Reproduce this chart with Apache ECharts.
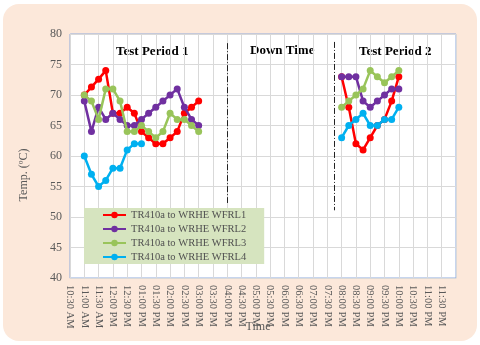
<!DOCTYPE html>
<html>
<head>
<meta charset="utf-8">
<script src="https://cdn.jsdelivr.net/npm/echarts@6/dist/echarts.min.js"></script>
<style>
  html, body { margin: 0; padding: 0; background: #fff; }
  #wrap { position: relative; width: 480px; height: 345px; }
  #panel { position: absolute; left: 3px; top: 4px; width: 474px; height: 337px;
           border-radius: 16px; background: #FCE8DA; }
  #main { position: absolute; left: 0; top: 0; width: 480px; height: 345px; }
</style>
</head>
<body>
<div id="wrap">
  <div id="panel"></div>
  <div id="main"></div>
</div>
<script>
// quarter-hour slots on the time axis
var categories = [
  '10:30 AM', '10:45 AM', '11:00 AM', '11:15 AM', '11:30 AM', '11:45 AM',
  '12:00 PM', '12:15 PM', '12:30 PM', '12:45 PM', '01:00 PM', '01:15 PM',
  '01:30 PM', '01:45 PM', '02:00 PM', '02:15 PM', '02:30 PM', '02:45 PM',
  '03:00 PM', '03:15 PM', '03:30 PM', '03:45 PM', '04:00 PM', '04:15 PM',
  '04:30 PM', '04:45 PM', '05:00 PM', '05:15 PM', '05:30 PM', '05:45 PM',
  '06:00 PM', '06:15 PM', '06:30 PM', '06:45 PM', '07:00 PM', '07:15 PM',
  '07:30 PM', '07:45 PM', '08:00 PM', '08:15 PM', '08:30 PM', '08:45 PM',
  '09:00 PM', '09:15 PM', '09:30 PM', '09:45 PM', '10:00 PM', '10:15 PM',
  '10:30 PM', '10:45 PM', '11:00 PM', '11:15 PM', '11:30 PM', '11:45 PM',
  '12:00 AM'
];

var seriesNames = ['TR410a to WRHE WFRL1', 'TR410a to WRHE WFRL2', 'TR410a to WRHE WFRL3', 'TR410a to WRHE WFRL4'];
var colors = ['#FF0000', '#7030A0', '#99C45A', '#00B0F0'];

// test period 1, from 11:00 AM
var period1Start = '11:00 AM';
var wfrl1P1 = [70, 71.3, 72.6, 74, 67, 67, 68, 67, 64, 63, 62, 62, 63, 64, 67, 68, 69];
var wfrl2P1 = [69, 64, 68, 66, 67, 66, 65, 65, 66, 67, 68, 69, 70, 71, 68, 66, 65];
var wfrl3P1 = [70, 69, 66, 71, 71, 69, 64, 64, 65, 64, 63, 64, 67, 66, 66, 65, 64];
var wfrl4P1 = [60, 57, 55, 56, 58, 58, 61, 62, 62];

// test period 2, from 08:00 PM
var period2Start = '08:00 PM';
var wfrl1P2 = [73, 68, 62, 61, 63, 65, 66, 69, 73];
var wfrl2P2 = [73, 73, 73, 69, 68, 69, 70, 71, 71];
var wfrl3P2 = [68, 69, 70, 71, 74, 73, 72, 73, 74];
var wfrl4P2 = [63, 65, 66, 67, 65, 65, 66, 66, 68];

// dash-dot separators
var dividerTimes = ['04:00 PM', '07:45 PM'];
var dividerTop = [78.5, 78.7];
var dividerBottom = [52.3, 51.1];

function buildSeries(p1, p2) {
  var out = categories.map(function () { return null; });
  var s1 = categories.indexOf(period1Start);
  var s2 = categories.indexOf(period2Start);
  p1.forEach(function (v, k) { out[s1 + k] = v; });
  p2.forEach(function (v, k) { out[s2 + k] = v; });
  return out;
}

var allData = [
  buildSeries(wfrl1P1, wfrl1P2),
  buildSeries(wfrl2P1, wfrl2P2),
  buildSeries(wfrl3P1, wfrl3P2),
  buildSeries(wfrl4P1, wfrl4P2)
];

var font = '"Liberation Serif", "Times New Roman", serif';
var gray = '#595959';

var series = allData.map(function (d, k) {
  return {
    name: seriesNames[k],
    type: 'line',
    data: d,
    connectNulls: false,
    showAllSymbol: true,
    symbol: 'circle',
    symbolSize: 7,
    color: colors[k],
    lineStyle: { width: 2.5, color: colors[k] },
    itemStyle: { color: colors[k] },
    z: 3 + k
  };
});

series[0].markLine = {
  silent: true,
  symbol: ['none', 'none'],
  label: { show: false },
  lineStyle: { color: '#222', width: 1, type: [6, 2, 1, 2] },
  data: dividerTimes.map(function (t, k) {
    return [{ coord: [t, dividerTop[k]] }, { coord: [t, dividerBottom[k]] }];
  })
};

var myChart = echarts.init(document.getElementById('main'));
myChart.setOption({
  backgroundColor: 'transparent',
  animation: false,
  grid: {
    left: 70, right: 24, top: 34, bottom: 67,
    outerBoundsMode: 'none',
    containLabel: false,
    show: true, backgroundColor: '#fff', borderColor: '#8FAADC', borderWidth: 1
  },
  legend: {
    orient: 'vertical',
    left: 84, top: 208,
    backgroundColor: '#D6E4BF',
    padding: [0, 18, 0, 18],
    itemGap: 0,
    itemWidth: 23,
    itemHeight: 8,
    textStyle: { fontFamily: font, fontSize: 10.5, color: '#505050', lineHeight: 14 },
    data: seriesNames
  },
  xAxis: {
    type: 'category',
    boundaryGap: false,
    data: categories,
    name: 'Time',
    nameLocation: 'middle',
    nameGap: 43,
    nameMoveOverlap: false,
    nameTextStyle: { fontFamily: font, fontSize: 12, color: gray, padding: [0, 10, 0, 0] },
    axisLine: { lineStyle: { color: '#D9D9D9' } },
    axisTick: { show: false },
    axisLabel: {
      interval: 1,
      rotate: -90,
      margin: 7,
      fontFamily: font,
      fontSize: 10.5,
      color: gray,
      formatter: function (v) { return v === '12:00 AM' ? '' : v; }
    },
    splitLine: { show: true, interval: 1, lineStyle: { color: '#D9D9D9', width: 1 } }
  },
  yAxis: {
    type: 'value',
    min: 40, max: 80, interval: 5,
    name: 'Temp. (ºC)',
    nameLocation: 'middle',
    nameGap: 40,
    nameMoveOverlap: false,
    nameTextStyle: { fontFamily: font, fontSize: 12, color: gray, padding: [0, 38, 0, 0] },
    axisLine: { show: true, lineStyle: { color: '#D9D9D9' } },
    axisTick: { show: false },
    axisLabel: { fontFamily: font, fontSize: 12, color: gray, margin: 8 },
    splitLine: { lineStyle: { color: '#D9D9D9', width: 1 } }
  },
  graphic: [
    { type: 'text', left: 116, top: 45, style: { text: 'Test Period 1', font: 'bold 13px ' + font, fill: '#000' } },
    { type: 'text', left: 250, top: 44, style: { text: 'Down Time', font: 'bold 13px ' + font, fill: '#000' } },
    { type: 'text', left: 359, top: 45, style: { text: 'Test Period 2', font: 'bold 13px ' + font, fill: '#000' } }
  ],
  series: series
});
</script>
</body>
</html>
